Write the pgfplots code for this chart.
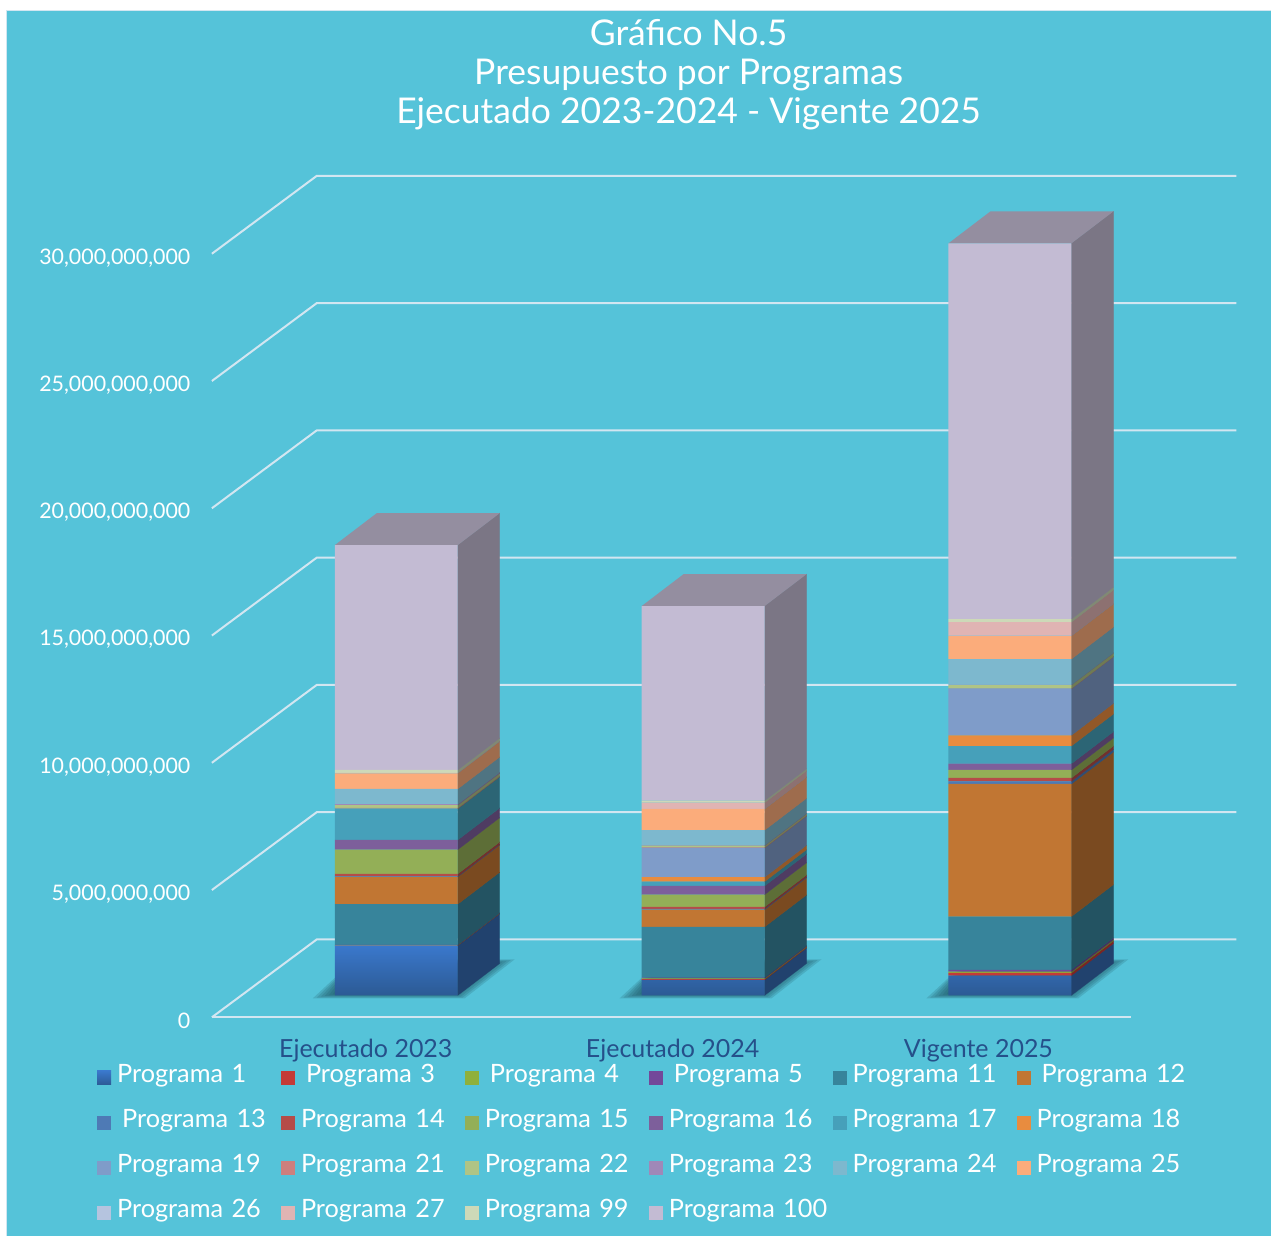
\documentclass[border=0pt]{standalone}
\usepackage{fontspec}
\setmainfont{Lato}
\usepackage{pgfplots}
\usepackage{pgfplotstable}
\pgfplotsset{compat=1.18}
\definecolor{bg}{HTML}{55C3D9}
\definecolor{gl}{HTML}{D2E6F1}
\definecolor{shd}{HTML}{1E5563}
\definecolor{p1}{HTML}{3468AE}
\definecolor{p1t}{HTML}{3A78CC}
\definecolor{p1b}{HTML}{2C5A94}
\definecolor{p3}{HTML}{C43A37}
\definecolor{p4}{HTML}{8FB03C}
\definecolor{p5}{HTML}{73489A}
\definecolor{p11}{HTML}{37849B}
\definecolor{p12}{HTML}{C17633}
\definecolor{p13}{HTML}{4E7AB5}
\definecolor{p14}{HTML}{B54C48}
\definecolor{p15}{HTML}{93AF57}
\definecolor{p16}{HTML}{7D5F9B}
\definecolor{p17}{HTML}{46A0BA}
\definecolor{p18}{HTML}{E88C3F}
\definecolor{p19}{HTML}{7F9CC9}
\definecolor{p21}{HTML}{CE7F7D}
\definecolor{p22}{HTML}{AFC485}
\definecolor{p23}{HTML}{9F88B8}
\definecolor{p24}{HTML}{7DB8CE}
\definecolor{p25}{HTML}{FBAC7B}
\definecolor{p26}{HTML}{B5C4DF}
\definecolor{p27}{HTML}{E0B4B3}
\definecolor{p99}{HTML}{CDD9B8}
\definecolor{p100}{HTML}{C3BBD3}
\definecolor{xlab}{HTML}{25508A}
\pgfplotstableread{
x base p1 p3 p4 p5 p11 p12 p13 p14 p15 p16 p17 p18 p19 p21 p22 p23 p24 p25 p26 p27 p99 p100
396.5 863000000 1955000000 12000000 8000000 8000000 1598000000 1072000000 20000000 98000000 954000000 381000000 1229000000 12000000 8000000 8000000 106000000 39000000 601000000 616000000 8000000 8000000 114000000 8834000000
703.5 863000000 609000000 27000000 31000000 31000000 1991000000 679000000 27000000 79000000 483000000 342000000 169000000 173000000 1150000000 20000000 67000000 20000000 589000000 836000000 8000000 239000000 79000000 7644000000
1010.5 863000000 777000000 106000000 51000000 67000000 2093000000 5210000000 106000000 130000000 314000000 247000000 695000000 420000000 1830000000 12000000 133000000 12000000 1009000000 915000000 8000000 530000000 118000000 14762000000
}\data
\def\dv{1.256e9}
\newcommand\sideface[4]{% column, row, x front, x back
  \pgfplotstablegetelem{#2}{#1}\of\data
  \let\cv\pgfplotsretval
  \begingroup
  \pgfkeys{/pgf/fpu=true,/pgf/fpu/output format=sci}%
  \pgfmathparse{\cum+863000000}\global\let\ya\pgfmathresult
  \pgfmathparse{\ya+\dv}\global\let\yb\pgfmathresult
  \pgfmathparse{\ya+\cv}\global\let\yd\pgfmathresult
  \pgfmathparse{\yd+\dv}\global\let\yc\pgfmathresult
  \pgfmathparse{\cum+\cv}\global\let\cum\pgfmathresult
  \endgroup
  \edef\temp{\noexpand\addplot[fill=#1!63!black,draw=#1!63!black,line width=0.3pt,forget plot]
    coordinates {(#3,\ya)(#4,\yb)(#4,\yc)(#3,\yd)(#3,\ya)};}\temp
}
\newcommand\sidebar[4]{% row, x front right, x back right, x front left
  \gdef\cum{0}%
  \pgfplotsforeachungrouped \c in {p1,p3,p4,p5,p11,p12,p13,p14,p15,p16,p17,p18,p19,p21,p22,p23,p24,p25,p26,p27,p99,p100}{%
    \edef\tempb{\noexpand\sideface{\c}{#1}{#2}{#3}}\tempb}%
  \pgfmathsetmacro\xbl{#4+42}%
  \edef\temp{\noexpand\addplot[fill=p100!76!black,draw=none,forget plot]
    coordinates {(#4,\yd)(#2,\yd)(#3,\yc)(\xbl,\yc)(#4,\yd)};}\temp
}
\newcommand\shlayer[2]{%
  \pgfmathsetmacro\sa{#1-22+2*#2}\pgfmathsetmacro\sb{#1+20}\pgfmathsetmacro\sc{#1+180-2*#2}\pgfmathsetmacro\sd{#1+130-#2}%
  \pgfmathsetmacro\yl{(19+0.4*#2)/25.47}\pgfmathsetmacro\yu{(58-0.4*#2)/25.47}%
  \edef\temp{\noexpand\addplot[fill=shd,draw=none,fill opacity=0.2,forget plot]
    coordinates {(\sa,\yl e9)(\sb,\yu e9)(\sc,\yu e9)(\sd,\yl e9)};}\temp
}
\newcommand\shadow[1]{\shlayer{#1}{0}\shlayer{#1}{2}\shlayer{#1}{4}\shlayer{#1}{6}\shlayer{#1}{8}\shlayer{#1}{10}}
\newcommand\seg[2]{\addplot[fill=#1,draw=none] table[x=x,y=#1]{\data};\addlegendentry{#2}}
\pgfplotsset{base/.style={
  scale only axis,width=920pt,height=764pt,
  xmin=212,xmax=1132,ymin=0,ymax=30e9,clip=false}}
\begin{document}
\begin{tikzpicture}
\begin{axis}[base,hide axis]
\addplot[fill=white,draw=none,forget plot] coordinates {(0,39.97e9)(1272,39.97e9)(1272,-8.598e9)(0,-8.598e9)};
\addplot[fill=bg,draw=none,forget plot] coordinates {(6,39.57e9)(1272,39.57e9)(1272,-8.598e9)(6,-8.598e9)};
\addplot[gl,line width=1.5pt,forget plot] coordinates {(6.7,-8.598e9)(6.7,39.55e9)(1272,39.55e9)};
\addplot[gl,line width=2pt,forget plot] coordinates {(212,0)(1132,0)};
\addplot[gl,line width=2pt,forget plot] coordinates {(212,0)(317,3.062e9)(1237,3.062e9)};
\addplot[gl,line width=2pt,forget plot] coordinates {(212,5e9)(317,8.062e9)(1237,8.062e9)};
\addplot[gl,line width=2pt,forget plot] coordinates {(212,10e9)(317,13.062e9)(1237,13.062e9)};
\addplot[gl,line width=2pt,forget plot] coordinates {(212,15e9)(317,18.062e9)(1237,18.062e9)};
\addplot[gl,line width=2pt,forget plot] coordinates {(212,20e9)(317,23.062e9)(1237,23.062e9)};
\addplot[gl,line width=2pt,forget plot] coordinates {(212,25e9)(317,28.062e9)(1237,28.062e9)};
\addplot[gl,line width=2pt,forget plot] coordinates {(212,30e9)(317,33.062e9)(1237,33.062e9)};
\shadow{335}
\shadow{642}
\shadow{949}
\sidebar{0}{458}{500}{335}
\sidebar{1}{765}{807}{642}
\sidebar{2}{1072}{1114}{949}
\end{axis}
\begin{axis}[base,
  ybar stacked,bar width=123pt,
  axis line style={draw=none},
  major tick length=0pt,
  xtick={366,673,979},
  xticklabels={Ejecutado 2023,Ejecutado 2024,Vigente 2025},
  x tick label style={text=xlab,font=\fontsize{25}{29}\selectfont,yshift=-18pt},
  ytick={0,5e9,10e9,15e9,20e9,25e9,30e9},
  scaled y ticks=false,
  y tick label style={text=white,font=\fontsize{21.4}{25}\selectfont,xshift=-18pt,yshift=-4pt,
    /pgf/number format/fixed,/pgf/number format/precision=0,
    /pgf/number format/1000 sep={,},/pgf/number format/assume math mode=true},
  title={Gráfico No.5\\Presupuesto por Programas\\Ejecutado 2023-2024 - Vigente 2025},
  title style={at={(axis cs:689,39.12e9)},anchor=north,align=center,text=white,
    font=\fontsize{35.5}{39}\selectfont},
  legend image code/.code={\path[#1] (0pt,-7pt) rectangle (14pt,7pt);},
  legend columns=6,
  legend style={at={(axis cs:97,-2.0e9)},anchor=north west,draw=none,fill=none,inner sep=0pt,
    text=white,font=\fontsize{25.3}{29}\selectfont,row sep=26pt,
    /tikz/every odd column/.append style={column sep=6pt},
    nodes={inner xsep=0pt,inner ysep=0pt,text width=164pt,text height=14pt,text depth=5pt,align=left,anchor=west}},
]
\addplot[draw=none,fill=none,forget plot] table[x=x,y=base]{\data};
\addplot[top color=p1t,bottom color=p1b,draw=none] table[x=x,y=p1]{\data};\addlegendentry{Programa 1}
\seg{p3}{\hspace*{5pt}Programa 3}
\seg{p4}{\hspace*{5pt}Programa 4}
\seg{p5}{\hspace*{5pt}Programa 5}
\seg{p11}{Programa 11}
\seg{p12}{\hspace*{5pt}Programa 12}
\seg{p13}{\hspace*{5pt}Programa 13}
\seg{p14}{Programa 14}
\seg{p15}{Programa 15}
\seg{p16}{Programa 16}
\seg{p17}{Programa 17}
\seg{p18}{Programa 18}
\seg{p19}{Programa 19}
\seg{p21}{Programa 21}
\seg{p22}{Programa 22}
\seg{p23}{Programa 23}
\seg{p24}{Programa 24}
\seg{p25}{Programa 25}
\seg{p26}{Programa 26}
\seg{p27}{Programa 27}
\seg{p99}{Programa 99}
\seg{p100}{Programa 100}
\end{axis}
\end{tikzpicture}
\end{document}
